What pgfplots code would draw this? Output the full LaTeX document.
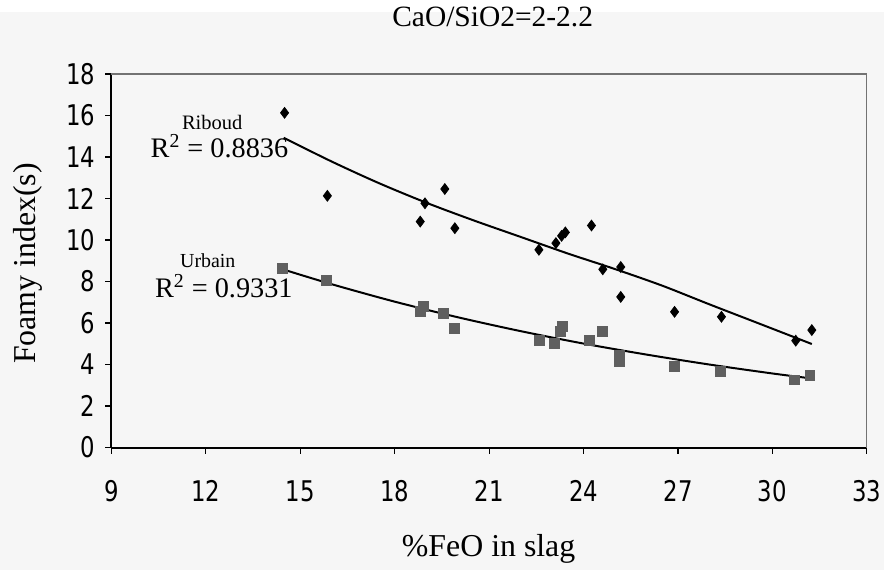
\documentclass[border=0pt]{standalone}
\usepackage{fontspec}
\setmainfont{Liberation Serif}
\newfontfamily\ticksf[FakeStretch=0.8]{DejaVu Sans}
\usepackage{pgfplots}
\pgfplotsset{compat=1.18}

\definecolor{paper}{RGB}{246,246,246}
\definecolor{sqgray}{RGB}{95,95,95}

\begin{document}
\begin{tikzpicture}
\fill[paper] (-56pt,-61.5pt) rectangle (388pt,219pt);
\begin{axis}[
    scale only axis,
    width=379.5pt, height=187.65pt,
    xmin=9, xmax=33, ymin=0, ymax=18,
    xtick={9,12,...,33}, ytick={0,2,...,18},
    axis x line*=bottom, axis y line*=left,
    axis line style={line width=1pt, -},
    tick align=outside,
    major tick length=3pt,
    tick style={black, line width=0.6pt},
    clip=false,
    /pgf/number format/assume math mode=true,
    ticklabel style={font=\ticksf\fontsize{14.3}{16}\selectfont},
    xticklabel style={anchor=center, yshift=-19pt},
    yticklabel style={anchor=east, inner sep=0pt, xshift=-5pt},
    title={CaO/SiO2=2-2.2},
    title style={at={(axis description cs:0.5046,1.1218)}, anchor=center, font=\fontsize{14.8}{16}\selectfont},
    xlabel={\%FeO in slag},
    xlabel style={at={(axis description cs:0.4993,-0.272)}, anchor=center, font=\fontsize{16}{18}\selectfont},
    ylabel={Foamy index(s)},
    ylabel style={at={(axis description cs:-0.1107,0.4929)}, anchor=center, font=\fontsize{16}{18}\selectfont},
]
% Riboud
\addplot[only marks, mark=diamond*, mark size=2.7pt, black] coordinates {
    (14.50,16.13) (15.86,12.13) (18.81,10.89) (18.96,11.77) (19.59,12.46)
    (19.91,10.57) (22.58,9.53) (23.12,9.85) (23.30,10.20) (23.42,10.37)
    (24.25,10.70) (24.61,8.59) (25.18,8.70) (25.18,7.26) (26.89,6.54)
    (28.38,6.30) (30.74,5.15) (31.25,5.66)
};
% Urbain
\addplot[only marks, mark=square*, mark size=2.5pt, sqgray, mark options={draw=sqgray, fill=sqgray}] coordinates {
    (14.42,8.62) (15.83,8.06) (18.80,6.54) (18.90,6.78) (19.54,6.46)
    (19.89,5.74) (22.60,5.18) (23.08,5.00) (23.27,5.58) (23.34,5.85)
    (24.18,5.18) (24.60,5.58) (25.13,4.46) (25.13,4.14) (26.87,3.90)
    (28.35,3.66) (30.70,3.26) (31.19,3.50)
};
% trend lines
\addplot[black, line width=1pt, smooth, no marks] coordinates {
    (14.47,14.93) (16.0,13.78) (17.5,12.74) (19.0,11.80) (20.5,10.95)
    (22.0,10.15) (23.5,9.35) (25.0,8.60) (26.5,7.80) (28.0,6.90)
    (29.5,6.02) (31.25,4.99)
};
\addplot[black, line width=1pt, smooth, no marks] coordinates {
    (14.42,8.60) (16,7.87) (18,7.03) (20,6.28) (22,5.61) (24,5.01)
    (26,4.48) (28,4.00) (30,3.57) (31.19,3.34)
};
\draw[black!55, line width=0.6pt] (rel axis cs:0,1) -- (rel axis cs:1,1) -- (rel axis cs:1,0);
\node[anchor=base, font=\fontsize{10.3}{12}\selectfont] at (axis cs:12.20,15.33) {Riboud};
\node[anchor=base, font=\fontsize{14.2}{16}\selectfont] at (axis cs:12.43,13.97) {R\textsuperscript{2} = 0.8836};
\node[anchor=base, font=\fontsize{10}{12}\selectfont] at (axis cs:12.06,8.67) {Urbain};
\node[anchor=base, font=\fontsize{14.2}{16}\selectfont] at (axis cs:12.57,7.23) {R\textsuperscript{2} = 0.9331};
\end{axis}
\end{tikzpicture}
\end{document}
